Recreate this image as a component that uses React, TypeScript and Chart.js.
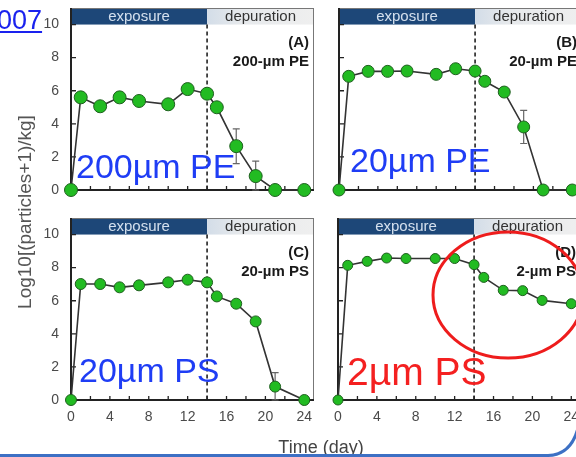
import React, { useEffect, useRef } from 'react';
import { Chart, registerables } from 'chart.js';

Chart.register(...registerables);

// ---------- data ----------
const DAYS = [0, 1, 3, 5, 7, 10, 12, 14, 15, 17, 19, 21, 24];
const PE200 = [0, 5.6, 5.06, 5.6, 5.38, 5.18, 6.1, 5.82, 5.0, 2.65, 0.84, 0, 0];
const PE20 = [0, 6.87, 7.17, 7.17, 7.19, 6.99, 7.33, 7.19, 6.57, 5.92, 3.81, 0, 0];
const PS20 = [0, 7.01, 7.01, 6.81, 6.93, 7.11, 7.27, 7.11, 6.26, 5.82, 4.75, 0.81, 0];
const PS2 = [0, 8.14, 8.38, 8.58, 8.55, 8.55, 8.55, 8.18, 7.41, 6.63, 6.61, 6.02, 5.82];
const ERR_PE200 = [0, 0, 0, 0, 0, 0, 0, 0, 0, 1.05, 0.9, 0, 0];
const ERR_PE20 = [0, 0, 0, 0, 0, 0, 0, 0, 0, 0, 1.0, 0, 0];
const ERR_PS20 = [0, 0, 0, 0, 0, 0, 0, 0, 0, 0, 0, 0.85, 0];
const ERR_PS2 = [0, 0, 0, 0, 0, 0, 0, 0, 0, 0, 0, 0, 0];

const X_TICKS = [0, 4, 8, 12, 16, 20, 24];
const X_MINOR = [0, 2, 4, 6, 8, 10, 12, 14, 16, 18, 20, 22, 24];
const Y_TICKS = [0, 2, 4, 6, 8, 10];
const PHASES = ['exposure', 'depuration'];
const DEPURATION_START = 14;
const LETTERS = ['(A)', '(B)', '(C)', '(D)'];
const NAMES = ['200-µm PE', '20-µm PE', '20-µm PS', '2-µm PS'];
const Y_TITLE = 'Log10[(particles+1)/kg]';
const X_TITLE = 'Time (day)';
const NOTES = ['200µm PE', '20µm PE', '20µm PS', '2µm PS'];

type Spec = {
  left: number; top: number; width: number; height: number;
  areaLeft: number; areaTop: number; areaRight: number; areaBottom: number;
  values: number[]; errors: number[]; idx: number;
  showX: boolean; showY: boolean; radius: number;
};

const SPECS: Spec[] = [
  { left: 0, top: 0, width: 320, height: 200, areaLeft: 71, areaTop: 8, areaRight: 314, areaBottom: 190, values: PE200, errors: ERR_PE200, idx: 0, showX: false, showY: true, radius: 6.5 },
  { left: 290, top: 0, width: 300, height: 200, areaLeft: 339, areaTop: 8, areaRight: 582, areaBottom: 190, values: PE20, errors: ERR_PE20, idx: 1, showX: false, showY: false, radius: 6 },
  { left: 0, top: 205, width: 320, height: 235, areaLeft: 71, areaTop: 218, areaRight: 314, areaBottom: 400, values: PS20, errors: ERR_PS20, idx: 2, showX: true, showY: true, radius: 5.5 },
  { left: 290, top: 205, width: 300, height: 235, areaLeft: 338, areaTop: 218, areaRight: 581, areaBottom: 400, values: PS2, errors: ERR_PS2, idx: 3, showX: true, showY: false, radius: 5 },
];

function Panel({ s }: { s: Spec }) {
  const ref = useRef<HTMLCanvasElement>(null);
  useEffect(() => {
    if (!ref.current) return;
    const decor = {
      id: 'decor' + s.idx,
      beforeDatasetsDraw(chart: any) {
        const { ctx, chartArea: a, scales } = chart;
        const x = scales.x, y = scales.y;
        const xDep = x.getPixelForValue(DEPURATION_START);
        const yTop = y.getPixelForValue(11);
        const yHead = y.getPixelForValue(10);
        const y0 = y.getPixelForValue(0);
        ctx.save();
        // header bars
        ctx.fillStyle = '#1d4778';
        ctx.fillRect(a.left, yTop, xDep - a.left, yHead - yTop);
        const g = ctx.createLinearGradient(xDep, 0, a.right, 0);
        g.addColorStop(0, '#d3dde8');
        g.addColorStop(0.3, '#e6e9ec');
        g.addColorStop(1, '#efefef');
        ctx.fillStyle = g;
        ctx.fillRect(xDep, yTop, a.right - xDep, yHead - yTop);
        ctx.font = '15px Arial, "Liberation Sans", sans-serif';
        ctx.textAlign = 'center';
        ctx.textBaseline = 'middle';
        ctx.fillStyle = '#d4e0ee';
        ctx.fillText(PHASES[0], (a.left + xDep) / 2, (yTop + yHead) / 2 + 0.5);
        ctx.fillStyle = '#333';
        ctx.fillText(PHASES[1], (xDep + a.right) / 2, (yTop + yHead) / 2 + 0.5);
        // dashed separator
        ctx.strokeStyle = '#222';
        ctx.lineWidth = 1.6;
        ctx.setLineDash([4, 3]);
        ctx.beginPath();
        ctx.moveTo(xDep, yHead);
        ctx.lineTo(xDep, y0);
        ctx.stroke();
        ctx.setLineDash([]);
        // frame
        ctx.strokeStyle = '#777';
        ctx.lineWidth = 1;
        ctx.beginPath();
        ctx.moveTo(a.left, yTop + 0.5);
        ctx.lineTo(a.right, yTop + 0.5);
        ctx.moveTo(a.right - 0.5, yTop);
        ctx.lineTo(a.right - 0.5, y0);
        ctx.stroke();
        ctx.strokeStyle = '#222';
        ctx.lineWidth = 2;
        ctx.beginPath();
        ctx.moveTo(a.left, yTop);
        ctx.lineTo(a.left, y0);
        ctx.lineTo(a.right, y0);
        ctx.stroke();
        // tick marks (inward)
        ctx.lineWidth = 1.3;
        ctx.beginPath();
        for (const v of Y_TICKS) {
          const py = y.getPixelForValue(v);
          ctx.moveTo(a.left, py);
          ctx.lineTo(a.left + 5, py);
        }
        for (const v of X_MINOR) {
          const px = x.getPixelForValue(v);
          ctx.moveTo(px, y0);
          ctx.lineTo(px, y0 - 4);
        }
        ctx.stroke();
        // panel label
        ctx.fillStyle = '#1a1a1a';
        ctx.font = 'bold 15px Arial, "Liberation Sans", sans-serif';
        ctx.textAlign = 'right';
        ctx.fillText(LETTERS[s.idx], a.right - 5, a.top + 34.5);
        ctx.fillText(NAMES[s.idx], a.right - 5, a.top + 54);
        // error bars
        ctx.strokeStyle = '#666';
        ctx.lineWidth = 1.2;
        ctx.beginPath();
        s.errors.forEach((e, i) => {
          if (!e) return;
          const px = x.getPixelForValue(DAYS[i]);
          const hi = y.getPixelForValue(s.values[i] + e);
          const lo = y.getPixelForValue(Math.max(0, s.values[i] - e));
          ctx.moveTo(px, hi); ctx.lineTo(px, lo);
          ctx.moveTo(px - 3.5, hi); ctx.lineTo(px + 3.5, hi);
          ctx.moveTo(px - 3.5, lo); ctx.lineTo(px + 3.5, lo);
        });
        ctx.stroke();
        ctx.restore();
      },
    };
    const chart = new Chart(ref.current, {
      type: 'line',
      data: {
        datasets: [{
          data: DAYS.map((d, i) => ({ x: d, y: s.values[i] })),
          borderColor: '#333',
          borderWidth: 1.6,
          pointRadius: s.radius,
          pointBackgroundColor: '#22bb22',
          pointBorderColor: '#1f5f1f',
          pointBorderWidth: 1,
          tension: 0,
          clip: false as any,
        }],
      },
      options: {
        animation: false,
        responsive: false,
        devicePixelRatio: 1,
        events: [],
        layout: {
          autoPadding: false,
          padding: { left: 0, bottom: 0, top: s.areaTop - s.top, right: s.left + s.width - s.areaRight },
        },
        plugins: { legend: { display: false }, tooltip: { enabled: false }, title: { display: false } },
        scales: {
          x: {
            type: 'linear', min: 0, max: 25,
            grid: { display: false, drawTicks: false },
            border: { display: false },
            afterBuildTicks: (sc: any) => { sc.ticks = X_TICKS.map((v) => ({ value: v })); },
            afterFit: (sc: any) => {
              sc.height = s.top + s.height - s.areaBottom;
              sc.paddingLeft = 0; sc.paddingRight = 0; sc.paddingTop = 0; sc.paddingBottom = 0;
            },
            ticks: {
              display: s.showX, padding: 9, maxRotation: 0, autoSkip: false,
              color: '#4a4a4a', font: { family: 'Arial, "Liberation Sans", sans-serif', size: 14 },
            },
          },
          y: {
            type: 'linear', min: 0, max: 11,
            grid: { display: false, drawTicks: false },
            border: { display: false },
            afterBuildTicks: (sc: any) => { sc.ticks = Y_TICKS.map((v) => ({ value: v })); },
            afterFit: (sc: any) => {
              sc.width = s.areaLeft - s.left;
              sc.paddingLeft = 0; sc.paddingRight = 0; sc.paddingTop = 0; sc.paddingBottom = 0;
            },
            ticks: {
              display: s.showY, padding: 12, autoSkip: false,
              color: '#4a4a4a', font: { family: 'Arial, "Liberation Sans", sans-serif', size: 14 },
            },
          },
        },
      } as any,
      plugins: [decor],
    });
    return () => chart.destroy();
  }, [s]);
  return (
    <canvas
      ref={ref}
      width={s.width}
      height={s.height}
      style={{ position: 'absolute', left: s.left, top: s.top, width: s.width, height: s.height }}
    />
  );
}

const noteStyle = (left: number, top: number, size: number, color: string): React.CSSProperties => ({
  position: 'absolute', left, top, fontSize: size, lineHeight: 1, color,
  fontFamily: 'Arial, "Liberation Sans", sans-serif', whiteSpace: 'nowrap',
});

export default function App() {
  return (
    <div style={{ position: 'absolute', left: 0, top: 0, width: 576, height: 457, overflow: 'hidden', background: '#ffffff', fontFamily: 'Arial, "Liberation Sans", sans-serif' }}>
      {SPECS.map((s) => <Panel key={s.idx} s={s} />)}
      <div style={{ position: 'absolute', left: 24, top: 212, width: 0, height: 0 }}>
        <div style={{ position: 'absolute', left: 0, top: 0, transform: 'translate(-50%, -50%) rotate(-90deg)', fontSize: 19, lineHeight: 1, color: '#555', whiteSpace: 'nowrap' }}>{Y_TITLE}</div>
      </div>
      <div style={{ position: 'absolute', left: 321, top: 438, transform: 'translateX(-50%)', fontSize: 18, lineHeight: 1, color: '#444', whiteSpace: 'nowrap' }}>{X_TITLE}</div>
      <div style={{ ...noteStyle(-3, 7, 27, '#1a22ee'), textDecoration: 'underline' }}>007</div>
      <div style={noteStyle(76, 149, 34, '#1f3df5')}>{NOTES[0]}</div>
      <div style={noteStyle(350, 143, 34, '#1f3df5')}>{NOTES[1]}</div>
      <div style={noteStyle(79, 353, 34, '#1f3df5')}>{NOTES[2]}</div>
      <div style={noteStyle(347, 352, 39, '#f42020')}>{NOTES[3]}</div>
      <svg width={576} height={457} style={{ position: 'absolute', left: 0, top: 0, pointerEvents: 'none' }}>
        <ellipse cx={508} cy={295} rx={75} ry={63} fill="none" stroke="#ee1c1c" strokeWidth={3} />
        <path d="M0 455.5 H548 Q571 455 578 428" fill="none" stroke="#3d70c4" strokeWidth={3} />
      </svg>
    </div>
  );
}
